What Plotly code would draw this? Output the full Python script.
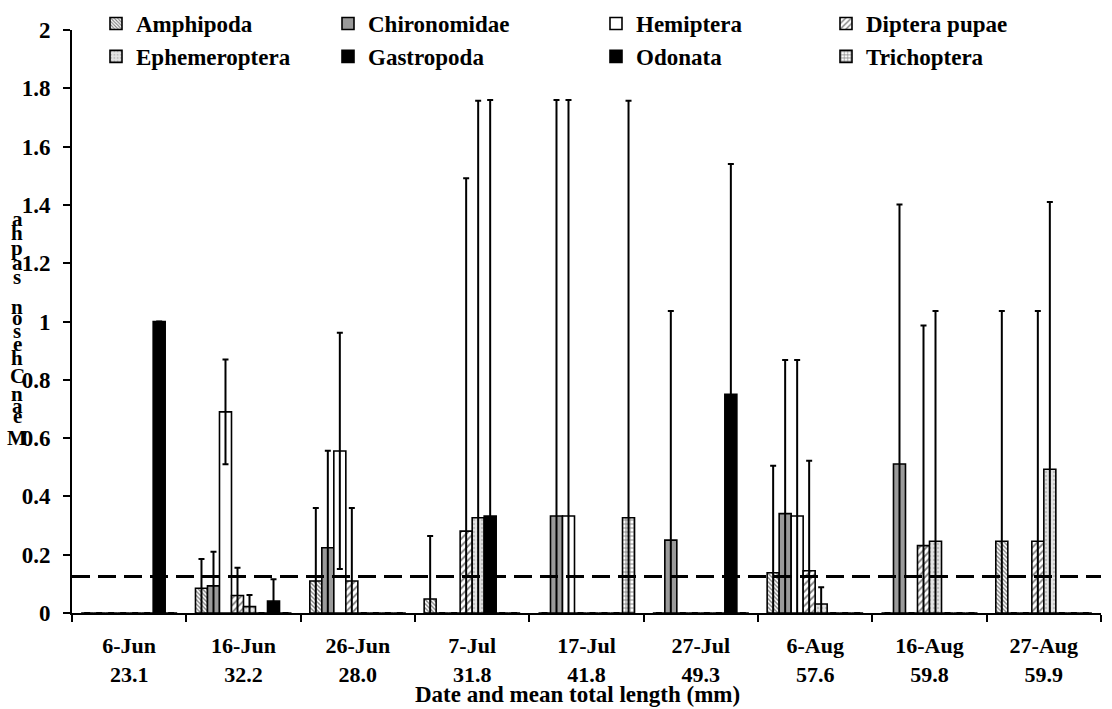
import plotly.graph_objects as go

# ---- data -------------------------------------------------------------
dates = ["6-Jun", "16-Jun", "26-Jun", "7-Jul", "17-Jul", "27-Jul", "6-Aug", "16-Aug", "27-Aug"]
mean_length_mm = ["23.1", "32.2", "28.0", "31.8", "41.8", "49.3", "57.6", "59.8", "59.9"]

amphipoda = [0, 0.085, 0.11, 0.048, 0, 0, 0.138, 0, 0.246]
amphipoda_err = [0, 0.10, 0.25, 0.216, 0, 0, 0.367, 0, 0.79]

chironomidae = [0, 0.093, 0.224, 0, 0.333, 0.25, 0.341, 0.511, 0]
chironomidae_err = [0, 0.117, 0.333, 0, 1.427, 0.786, 0.527, 0.89, 0]

hemiptera = [0, 0.69, 0.556, 0, 0.333, 0, 0.333, 0, 0]
hemiptera_err = [0, 0.18, 0.405, 0, 1.427, 0, 0.535, 0, 0]

diptera_pupae = [0, 0.06, 0.11, 0.281, 0, 0, 0.145, 0.231, 0.246]
diptera_pupae_err = [0, 0.095, 0.25, 1.21, 0, 0, 0.377, 0.755, 0.79]

ephemeroptera = [0, 0.022, 0, 0.327, 0, 0, 0.031, 0.246, 0.493]
ephemeroptera_err = [0, 0.04, 0, 1.43, 0, 0, 0.057, 0.79, 0.917]

gastropoda = [0, 0, 0, 0.333, 0, 0, 0, 0, 0]
gastropoda_err = [0, 0, 0, 1.427, 0, 0, 0, 0, 0]

odonata = [1.0, 0.041, 0, 0, 0, 0.75, 0, 0, 0]
odonata_err = [0, 0.075, 0, 0, 0, 0.79, 0, 0, 0]

trichoptera = [0, 0, 0, 0, 0.327, 0, 0, 0, 0]
trichoptera_err = [0, 0, 0, 0, 1.43, 0, 0, 0, 0]

neutral_alpha = 0.125  # 1/m for the eight prey types

tick_labels = [f"{d}<br>{l}" for d, l in zip(dates, mean_length_mm)]

# ---- styling ----------------------------------------------------------
FONT = "Liberation Serif"
W, H = 1112, 709
ML, MR, MT, MB = 72, 11, 30, 96
PW, PH = W - ML - MR, H - MT - MB


def bold(size):
    return dict(family=FONT, size=size, color="black", weight="bold")


series = [
    ("Amphipoda", amphipoda, amphipoda_err, "white", dict(shape="\\", fgcolor="black", size=3, solidity=0.45), "legend"),
    ("Chironomidae", chironomidae, chironomidae_err, "#9a9a9a", None, "legend2"),
    ("Hemiptera", hemiptera, hemiptera_err, "white", None, "legend3"),
    ("Diptera pupae", diptera_pupae, diptera_pupae_err, "white", dict(shape="/", fgcolor="black", size=5, solidity=0.35), "legend4"),
    ("Ephemeroptera", ephemeroptera, ephemeroptera_err, "#e4e4e4", dict(shape=".", fgcolor="#9a9a9a", size=4, solidity=0.3), "legend"),
    ("Gastropoda", gastropoda, gastropoda_err, "black", None, "legend2"),
    ("Odonata", odonata, odonata_err, "black", None, "legend3"),
    ("Trichoptera", trichoptera, trichoptera_err, "white", dict(shape="+", fgcolor="black", size=4, solidity=0.4), "legend4"),
]

fig = go.Figure()
for name, vals, errs, color, pattern, leg in series:
    marker = dict(color=color, line=dict(color="black", width=1.6))
    if pattern:
        marker["pattern"] = dict(fillmode="overlay", **pattern)
    fig.add_trace(go.Bar(
        name=name, x=dates, y=vals, marker=marker, legend=leg,
        error_y=dict(type="data", array=errs, symmetric=True,
                     color="black", thickness=2, width=3),
    ))

# dashed line for neutral selection
fig.add_shape(type="line", xref="paper", x0=0, x1=1, yref="y",
              y0=neutral_alpha, y1=neutral_alpha,
              line=dict(color="black", width=3, dash="18px,8px"))


def px_x(p):
    return (p - ML) / PW


def px_y(p):
    return (H - MB - p) / PH


# vertical stacked y-axis title
letters = list("ahpasnosehCnaeM")
letter_y = [219, 233, 248, 263, 277, 307, 318, 331, 344, 358, 376, 394, 406, 416, 438]
for ch, yy in zip(letters, letter_y):
    fig.add_annotation(text=ch, xref="paper", yref="paper",
                       x=px_x(17), y=px_y(yy), xanchor="center", yanchor="middle",
                       showarrow=False, font=bold(21))

fig.add_annotation(text="Date and mean total length (mm)", xref="paper", yref="paper",
                   x=px_x(577), y=px_y(694), xanchor="center", yanchor="middle",
                   showarrow=False, font=bold(23))

legend_cols = [96, 328, 596, 826]
legend_common = dict(orientation="v", yanchor="top", xanchor="left",
                     bgcolor="rgba(0,0,0,0)", font=bold(23),
                     tracegroupgap=0, borderwidth=0)
fig.update_layout(
    legend=dict(x=px_x(legend_cols[0]), y=px_y(2), **legend_common),
    legend2=dict(x=px_x(legend_cols[1]), y=px_y(2), **legend_common),
    legend3=dict(x=px_x(legend_cols[2]), y=px_y(2), **legend_common),
    legend4=dict(x=px_x(legend_cols[3]), y=px_y(2), **legend_common),
)

fig.update_layout(
    width=W, height=H,
    margin=dict(l=ML, r=MR, t=MT, b=MB, autoexpand=False),
    paper_bgcolor="white", plot_bgcolor="white",
    barmode="group", bargap=0.16, bargroupgap=0,
    showlegend=True,
    font=bold(22),
    xaxis=dict(type="category", tickmode="array", tickvals=dates, ticktext=tick_labels,
               showline=True, linecolor="black", linewidth=2,
               ticks="outside", tickson="boundaries", ticklen=7, tickwidth=2, tickcolor="black",
               showgrid=False, zeroline=False, ticklabelstandoff=12,
               tickfont=bold(22)),
    yaxis=dict(range=[0, 2], dtick=0.2, tick0=0,
               showline=True, linecolor="black", linewidth=2,
               ticks="outside", ticklen=7, tickwidth=2, tickcolor="black",
               showgrid=False, zeroline=False, ticklabelstandoff=8,
               tickfont=bold(23)),
)

fig.write_html("out.html")
